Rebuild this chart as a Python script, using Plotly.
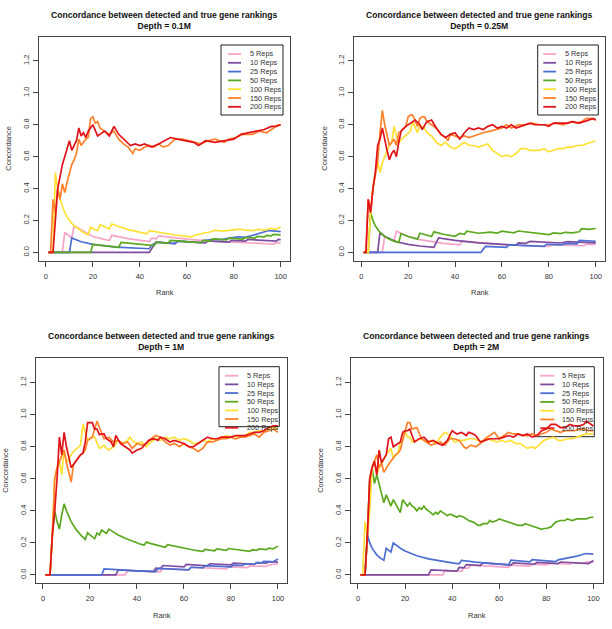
import plotly.graph_objects as go

# ---------------- data: (rank, concordance) vertices ----------------
REPS = ["5 Reps", "10 Reps", "25 Reps", "50 Reps", "100 Reps", "150 Reps", "200 Reps"]
COLORS = ["#F6A5C8", "#7D4E9F", "#4C6ED2", "#5CA91F", "#FFE135", "#FF8129", "#E0121A"]
PANEL_TITLES = ["Depth = 0.1M", "Depth = 0.25M", "Depth = 1M", "Depth = 2M"]
X_TICKS = [0, 20, 40, 60, 80, 100]
Y_TICKS = [0.0, 0.2, 0.4, 0.6, 0.8, 1.0, 1.2]
Y_TICKTEXT = ["0.0", "0.2", "0.4", "0.6", "0.8", "1.0", "1.2"]

# ---- Depth = 0.1M ----
p1_r5 = [(1,0),(7,0),(8,0.125),(11,0.091),(12,0.167),(20,0.1),(27,0.074),(28,0.107),(35,0.086),(44,0.068),(45,0.089),(47,0.085),(48,0.104),(60,0.083),(70,0.071),(80,0.0625),(90,0.056),(97,0.052),(98,0.061),(100,0.06)]
p1_r10 = [(1,0),(44,0),(45,0.022),(46,0.043),(47,0.064),(55,0.055),(56,0.071),(65,0.062),(68,0.059),(69,0.072),(78,0.064),(79,0.076),(85,0.071),(86,0.081),(95,0.074),(98,0.071),(99,0.081),(100,0.08)]
p1_r25 = [(1,0),(10,0),(11,0.091),(15,0.067),(20,0.05),(30,0.033),(44,0.023),(45,0.044),(47,0.064),(53,0.057),(55,0.055),(56,0.071),(60,0.067),(66,0.061),(67,0.075),(72,0.083),(75,0.08),(78,0.09),(82,0.098),(85,0.094),(87,0.103),(89,0.112),(91,0.121),(93,0.129),(95,0.137),(98,0.133),(100,0.13)]
p1_r50 = [(1,0),(19,0),(20,0.05),(31,0.032),(32,0.0625),(46,0.043),(47,0.064),(52,0.058),(53,0.075),(60,0.067),(66,0.061),(67,0.075),(70,0.071),(71,0.085),(77,0.078),(78,0.09),(84,0.083),(85,0.094),(89,0.09),(90,0.1),(93,0.097),(94,0.106),(96,0.104),(97,0.113),(100,0.11)]
p1_r100 = [(1,0),(3,0),(4,0.5),(5,0.4),(6,0.333),(7,0.286),(8,0.25),(9,0.222),(10,0.2),(11,0.182),(12,0.167),(14,0.143),(16,0.125),(18,0.111),(19,0.158),(20,0.15),(21,0.143),(22,0.136),(23,0.174),(24,0.167),(25,0.16),(27,0.148),(28,0.179),(30,0.167),(35,0.143),(40,0.125),(43,0.116),(44,0.136),(48,0.125),(55,0.109),(62,0.097),(64,0.11),(67,0.12),(70,0.128),(72,0.139),(75,0.133),(79,0.14),(82,0.146),(85,0.14),(88,0.136),(90,0.144),(93,0.14),(96,0.15),(98,0.143),(100,0.16)]
p1_r150 = [(1,0),(2,0),(3,0.333),(4,0.25),(5,0.4),(6,0.333),(7,0.43),(8,0.375),(9,0.44),(10,0.5),(11,0.55),(12,0.58),(13,0.62),(14,0.71),(15,0.67),(16,0.69),(17,0.71),(18,0.72),(19,0.84),(20,0.85),(21,0.81),(22,0.82),(23,0.78),(25,0.76),(27,0.74),(29,0.76),(31,0.71),(33,0.68),(35,0.66),(37,0.62),(38,0.65),(40,0.64),(42,0.66),(44,0.67),(46,0.66),(48,0.68),(50,0.66),(52,0.67),(55,0.71),(58,0.71),(61,0.7),(63,0.69),(66,0.68),(69,0.7),(72,0.71),(76,0.69),(78,0.71),(81,0.72),(84,0.74),(88,0.74),(91,0.76),(94,0.75),(97,0.78),(99,0.8),(100,0.8)]
p1_r200 = [(1,0),(3,0),(5,0.4),(7,0.55),(8,0.6),(10,0.7),(11,0.64),(12,0.67),(13,0.7),(14,0.78),(15,0.73),(16,0.75),(17,0.72),(18,0.76),(20,0.8),(22,0.73),(25,0.76),(27,0.73),(29,0.79),(31,0.74),(34,0.7),(36,0.67),(38,0.68),(40,0.67),(42,0.68),(45,0.66),(48,0.68),(53,0.72),(56,0.71),(60,0.7),(63,0.69),(65,0.67),(68,0.7),(72,0.69),(76,0.7),(80,0.71),(83,0.74),(86,0.75),(90,0.76),(93,0.77),(96,0.79),(98,0.79),(100,0.8)]

# ---- Depth = 0.25M ----
p2_r5 = [(1,0),(9,0),(10,0.1),(12,0.083),(14,0.071),(15,0.133),(20,0.1),(25,0.08),(30,0.067),(35,0.057),(40,0.05),(42,0.048),(43,0.07),(50,0.06),(60,0.05),(66,0.045),(70,0.043),(80,0.0375),(82,0.049),(90,0.044),(95,0.042),(96,0.052),(100,0.05)]
p2_r10 = [(1,0),(7,0),(8,0.125),(10,0.1),(15,0.067),(20,0.05),(25,0.04),(30,0.033),(31,0.032),(33,0.091),(40,0.075),(50,0.06),(60,0.05),(66,0.045),(67,0.06),(70,0.057),(72,0.069),(80,0.0625),(85,0.059),(88,0.068),(93,0.064),(95,0.063),(100,0.06)]
p2_r25 = [(1,0),(51,0),(52,0.019),(53,0.038),(62,0.032),(63,0.048),(70,0.043),(78,0.038),(79,0.051),(85,0.047),(88,0.057),(92,0.054),(93,0.075),(100,0.07)]
p2_r50 = [(1,0),(3,0),(4,0.25),(5,0.2),(6,0.167),(7,0.143),(8,0.125),(9,0.111),(10,0.1),(12,0.083),(14,0.071),(16,0.0625),(17,0.118),(20,0.1),(24,0.083),(25,0.12),(30,0.1),(31,0.129),(35,0.114),(38,0.105),(40,0.1),(42,0.119),(44,0.114),(45,0.133),(50,0.12),(55,0.127),(58,0.121),(60,0.133),(65,0.123),(67,0.134),(70,0.129),(75,0.12),(78,0.115),(80,0.112),(82,0.122),(85,0.118),(87,0.126),(90,0.122),(93,0.129),(94,0.149),(97,0.144),(100,0.15)]
p2_r100 = [(1,0),(3,0),(4,0.25),(5,0.4),(6,0.5),(7,0.57),(8,0.5),(9,0.56),(10,0.6),(11,0.64),(12,0.67),(13,0.69),(14,0.79),(15,0.73),(16,0.69),(18,0.72),(20,0.75),(21,0.76),(22,0.82),(23,0.78),(24,0.75),(25,0.8),(27,0.78),(28,0.75),(30,0.73),(32,0.69),(34,0.67),(36,0.69),(38,0.66),(40,0.65),(42,0.67),(44,0.69),(46,0.67),(48,0.67),(50,0.66),(52,0.67),(54,0.68),(56,0.64),(58,0.62),(60,0.6),(62,0.61),(64,0.6),(66,0.62),(68,0.65),(70,0.65),(72,0.64),(74,0.64),(76,0.64),(78,0.65),(80,0.63),(82,0.64),(84,0.65),(86,0.65),(88,0.66),(90,0.66),(92,0.67),(94,0.67),(96,0.68),(98,0.69),(100,0.7)]
p2_r150 = [(1,0),(2,0),(3,0.333),(4,0.25),(5,0.4),(6,0.5),(7,0.57),(8,0.75),(9,0.89),(10,0.8),(11,0.73),(12,0.67),(13,0.69),(14,0.71),(15,0.67),(16,0.75),(17,0.76),(19,0.79),(20,0.85),(21,0.86),(22,0.86),(23,0.83),(24,0.79),(25,0.84),(26,0.85),(27,0.85),(28,0.82),(30,0.8),(32,0.78),(34,0.74),(36,0.72),(37,0.7),(38,0.74),(40,0.73),(42,0.72),(44,0.73),(46,0.72),(48,0.73),(50,0.74),(52,0.75),(55,0.76),(58,0.77),(60,0.78),(62,0.8),(64,0.78),(67,0.8),(70,0.8),(73,0.81),(76,0.8),(78,0.8),(80,0.8),(83,0.81),(86,0.8),(88,0.81),(90,0.82),(92,0.81),(94,0.82),(96,0.84),(98,0.84),(100,0.83)]
p2_r200 = [(1,0),(2,0),(3,0.333),(4,0.25),(5,0.4),(6,0.5),(7,0.67),(8,0.71),(9,0.78),(10,0.7),(11,0.64),(12,0.58),(13,0.62),(14,0.64),(15,0.6),(16,0.69),(17,0.76),(19,0.79),(21,0.81),(23,0.83),(25,0.8),(26,0.77),(28,0.82),(30,0.83),(32,0.78),(34,0.74),(36,0.72),(38,0.74),(40,0.75),(42,0.71),(44,0.75),(46,0.78),(48,0.77),(50,0.78),(52,0.77),(54,0.79),(56,0.8),(58,0.78),(60,0.79),(62,0.78),(64,0.8),(66,0.78),(68,0.79),(70,0.8),(72,0.81),(74,0.8),(76,0.8),(78,0.8),(80,0.79),(82,0.81),(85,0.81),(88,0.81),(90,0.82),(93,0.81),(95,0.82),(97,0.83),(99,0.84),(100,0.83)]

# ---- Depth = 1M ----
p3_r5 = [(1,0),(35,0),(36,0.028),(50,0.02),(51,0.039),(60,0.033),(62,0.032),(63,0.048),(75,0.04),(78,0.038),(79,0.05),(85,0.047),(87,0.046),(88,0.057),(95,0.053),(96,0.0625),(100,0.07)]
p3_r10 = [(1,0),(31,0),(32,0.031),(47,0.021),(48,0.042),(50,0.04),(51,0.059),(60,0.05),(61,0.066),(70,0.057),(71,0.07),(80,0.0625),(81,0.074),(90,0.067),(91,0.077),(95,0.074),(96,0.083),(100,0.08)]
p3_r25 = [(1,0),(25,0),(26,0.038),(30,0.033),(40,0.025),(48,0.021),(49,0.041),(60,0.033),(62,0.032),(63,0.048),(68,0.044),(69,0.058),(80,0.05),(81,0.062),(85,0.059),(86,0.07),(90,0.067),(91,0.077),(93,0.075),(94,0.085),(98,0.082),(99,0.091),(100,0.1)]
p3_r50 = [(1,0),(3,0),(4,0.25),(5,0.4),(6,0.333),(7,0.286),(8,0.375),(9,0.444),(10,0.4),(11,0.364),(12,0.333),(14,0.286),(16,0.25),(18,0.222),(19,0.263),(20,0.25),(21,0.238),(22,0.227),(23,0.261),(24,0.25),(25,0.28),(26,0.269),(27,0.259),(28,0.286),(30,0.267),(32,0.25),(35,0.229),(38,0.21),(41,0.195),(43,0.186),(44,0.205),(46,0.196),(48,0.188),(50,0.18),(52,0.173),(53,0.189),(56,0.179),(60,0.167),(64,0.156),(67,0.149),(68,0.147),(69,0.159),(71,0.155),(73,0.151),(74,0.162),(76,0.158),(78,0.154),(79,0.165),(82,0.159),(86,0.151),(88,0.148),(89,0.157),(91,0.154),(92,0.163),(95,0.158),(96,0.167),(98,0.163),(100,0.18)]
p3_r100 = [(1,0),(3,0),(4,0.25),(5,0.6),(6,0.67),(7,0.71),(8,0.625),(9,0.78),(10,0.7),(11,0.73),(12,0.75),(13,0.77),(15,0.8),(16,0.81),(17,0.94),(18,0.89),(19,0.84),(20,0.85),(21,0.86),(22,0.86),(23,0.83),(24,0.79),(25,0.8),(26,0.81),(27,0.79),(28,0.78),(30,0.8),(32,0.84),(34,0.82),(36,0.84),(37,0.86),(38,0.84),(40,0.82),(42,0.83),(44,0.8),(46,0.83),(48,0.85),(50,0.84),(52,0.86),(54,0.85),(56,0.86),(58,0.84),(60,0.85),(62,0.84),(64,0.82),(66,0.82),(68,0.84),(70,0.83),(72,0.85),(74,0.84),(76,0.86),(78,0.87),(80,0.86),(82,0.87),(84,0.86),(86,0.87),(88,0.89),(90,0.89),(92,0.9),(94,0.9),(96,0.91),(98,0.92),(100,0.91)]
p3_r150 = [(1,0),(3,0),(4,0.25),(5,0.6),(6,0.67),(7,0.71),(8,0.75),(9,0.78),(10,0.7),(11,0.64),(12,0.58),(13,0.69),(14,0.71),(15,0.73),(16,0.75),(17,0.76),(18,0.78),(19,0.84),(20,0.85),(21,0.86),(22,0.91),(23,0.96),(24,0.92),(25,0.88),(26,0.85),(28,0.86),(30,0.83),(32,0.84),(34,0.82),(36,0.83),(38,0.79),(40,0.82),(42,0.81),(44,0.82),(46,0.85),(48,0.87),(50,0.86),(52,0.83),(54,0.81),(56,0.82),(58,0.8),(60,0.82),(62,0.8),(64,0.79),(66,0.77),(68,0.79),(70,0.83),(72,0.83),(74,0.84),(76,0.85),(78,0.85),(80,0.86),(82,0.85),(84,0.86),(86,0.86),(88,0.87),(90,0.88),(92,0.86),(94,0.89),(96,0.9),(98,0.91),(100,0.89)]
p3_r200 = [(1,0),(3,0),(4,0.25),(5,0.4),(6,0.6),(7,0.86),(8,0.75),(9,0.89),(10,0.8),(11,0.73),(12,0.67),(13,0.69),(14,0.71),(15,0.73),(16,0.75),(17,0.76),(18,0.83),(19,0.95),(20,0.95),(21,0.95),(22,0.91),(23,0.91),(24,0.875),(25,0.88),(26,0.88),(27,0.85),(29,0.83),(30,0.8),(31,0.87),(33,0.82),(35,0.8),(37,0.78),(38,0.76),(40,0.78),(42,0.79),(44,0.82),(45,0.84),(47,0.85),(49,0.84),(50,0.86),(52,0.85),(54,0.83),(56,0.84),(58,0.83),(60,0.82),(62,0.8),(64,0.8),(66,0.82),(68,0.84),(70,0.86),(72,0.85),(74,0.85),(76,0.86),(78,0.86),(80,0.86),(82,0.87),(84,0.87),(86,0.87),(88,0.88),(90,0.89),(92,0.89),(94,0.9),(96,0.92),(98,0.93),(100,0.93)]

# ---- Depth = 2M ----
p4_r5 = [(1,0),(36,0),(37,0.027),(40,0.025),(44,0.023),(45,0.044),(47,0.043),(48,0.0625),(55,0.055),(60,0.05),(64,0.047),(65,0.062),(73,0.055),(74,0.068),(80,0.0625),(82,0.073),(90,0.067),(91,0.077),(96,0.073),(97,0.082),(100,0.08)]
p4_r10 = [(1,0),(30,0),(31,0.032),(38,0.026),(42,0.024),(43,0.047),(45,0.044),(46,0.065),(50,0.06),(52,0.058),(53,0.075),(60,0.067),(65,0.062),(66,0.076),(75,0.067),(76,0.079),(85,0.071),(86,0.081),(95,0.074),(98,0.071),(99,0.081),(100,0.09)]
p4_r25 = [(1,0),(3,0),(4,0.25),(5,0.2),(6,0.167),(7,0.143),(8,0.125),(9,0.111),(10,0.1),(11,0.091),(12,0.167),(13,0.154),(14,0.143),(15,0.2),(16,0.1875),(18,0.167),(20,0.15),(25,0.12),(30,0.1),(35,0.086),(40,0.075),(43,0.07),(44,0.091),(50,0.08),(55,0.073),(60,0.067),(64,0.0625),(65,0.092),(70,0.086),(73,0.082),(74,0.095),(80,0.0875),(84,0.083),(85,0.094),(88,0.102),(90,0.111),(93,0.118),(95,0.126),(97,0.134),(100,0.13)]
p4_r50 = [(1,0),(3,0),(4,0.25),(5,0.6),(6,0.67),(7,0.57),(8,0.625),(9,0.56),(10,0.5),(11,0.45),(12,0.5),(13,0.46),(14,0.43),(15,0.47),(16,0.44),(17,0.41),(18,0.39),(19,0.47),(20,0.45),(21,0.43),(22,0.45),(23,0.43),(24,0.42),(25,0.4),(26,0.42),(27,0.41),(28,0.43),(29,0.41),(30,0.4),(31,0.39),(32,0.375),(33,0.39),(34,0.38),(35,0.4),(37,0.38),(38,0.37),(39,0.38),(40,0.375),(42,0.36),(43,0.37),(45,0.36),(47,0.34),(49,0.33),(51,0.31),(52,0.31),(53,0.32),(55,0.32),(56,0.34),(57,0.33),(59,0.34),(60,0.35),(62,0.34),(64,0.33),(66,0.32),(68,0.31),(70,0.31),(71,0.32),(73,0.31),(75,0.3),(77,0.29),(78,0.285),(79,0.29),(80,0.29),(82,0.3),(84,0.33),(86,0.34),(88,0.34),(89,0.35),(91,0.34),(93,0.35),(95,0.35),(97,0.35),(99,0.36),(100,0.36)]
p4_r100 = [(1,0),(2,0),(3,0.333),(4,0.25),(5,0.4),(6,0.67),(7,0.71),(8,0.625),(9,0.67),(10,0.7),(11,0.73),(12,0.75),(13,0.77),(14,0.79),(15,0.73),(16,0.75),(17,0.76),(18,0.83),(19,0.84),(20,0.9),(21,0.86),(22,0.86),(23,0.83),(25,0.84),(27,0.85),(29,0.83),(31,0.84),(33,0.82),(35,0.86),(37,0.89),(39,0.87),(41,0.83),(43,0.84),(45,0.84),(47,0.85),(49,0.85),(51,0.84),(53,0.83),(55,0.85),(57,0.84),(59,0.83),(61,0.84),(63,0.83),(65,0.84),(67,0.82),(69,0.82),(71,0.8),(72,0.79),(74,0.8),(75,0.79),(77,0.81),(79,0.84),(81,0.85),(83,0.86),(85,0.84),(87,0.84),(89,0.85),(91,0.85),(93,0.86),(95,0.87),(97,0.88),(100,0.88)]
p4_r150 = [(1,0),(3,0),(4,0.25),(5,0.6),(6,0.67),(7,0.71),(8,0.75),(9,0.67),(10,0.7),(11,0.64),(12,0.67),(13,0.69),(14,0.71),(15,0.73),(16,0.75),(17,0.76),(18,0.78),(19,0.84),(20,0.9),(21,0.95),(22,0.95),(23,0.91),(25,0.92),(26,0.88),(27,0.85),(29,0.83),(31,0.81),(33,0.82),(35,0.83),(37,0.81),(39,0.85),(41,0.85),(43,0.84),(45,0.8),(46,0.79),(48,0.81),(50,0.8),(52,0.82),(54,0.85),(56,0.87),(58,0.89),(60,0.85),(62,0.87),(64,0.89),(66,0.88),(68,0.88),(70,0.87),(72,0.87),(74,0.88),(76,0.87),(78,0.88),(80,0.89),(82,0.91),(84,0.9),(86,0.89),(88,0.9),(90,0.9),(92,0.9),(94,0.91),(96,0.91),(98,0.9),(100,0.9)]
p4_r200 = [(1,0),(3,0),(4,0.25),(5,0.6),(6,0.67),(7,0.71),(8,0.625),(9,0.78),(10,0.7),(11,0.73),(12,0.75),(13,0.85),(14,0.86),(15,0.8),(16,0.81),(17,0.82),(18,0.83),(19,0.89),(20,0.9),(21,0.9),(22,0.91),(23,0.87),(24,0.83),(25,0.84),(26,0.85),(28,0.86),(30,0.83),(32,0.84),(34,0.82),(36,0.81),(38,0.84),(40,0.9),(42,0.88),(44,0.89),(46,0.87),(47,0.89),(49,0.88),(50,0.87),(52,0.83),(54,0.84),(56,0.85),(58,0.85),(60,0.85),(62,0.86),(64,0.87),(66,0.86),(68,0.88),(70,0.87),(72,0.88),(74,0.86),(76,0.87),(78,0.9),(80,0.91),(82,0.94),(84,0.94),(86,0.92),(88,0.92),(90,0.94),(92,0.93),(94,0.93),(96,0.94),(97,0.96),(98,0.95),(100,0.93)]

PANELS = [
    [p1_r5, p1_r10, p1_r25, p1_r50, p1_r100, p1_r150, p1_r200],
    [p2_r5, p2_r10, p2_r25, p2_r50, p2_r100, p2_r150, p2_r200],
    [p3_r5, p3_r10, p3_r25, p3_r50, p3_r100, p3_r150, p3_r200],
    [p4_r5, p4_r10, p4_r25, p4_r50, p4_r100, p4_r150, p4_r200],
]

# ---------------- layout geometry (pixels in a 612 x 629 page) ----------------
W, H = 612, 629
# plot boxes: (left, right, top, bottom)
BOXES = [(39, 290, 36.7, 260.7), (354.3, 605, 36.7, 260.7),
         (36, 287.3, 358.3, 583.3), (351, 602.7, 358.3, 583.3)]
# legend boxes: (left, right, top, bottom, first row y, row step, line x0, line x1, text x)
LEGENDS = [(221, 283, 45, 115, 54, 8.8, 228, 241, 248),
           (537.7, 598.3, 45, 115, 54, 8.8, 543.3, 556, 563.3),
           (219, 279.3, 366.7, 426.7, 375.7, 8.67, 225, 238.3, 245),
           (534.3, 594.3, 366.7, 436.7, 375.7, 8.75, 540.3, 554.3, 560)]
YLABEL_X = [9, 325, 6, 321]

FONT = "Liberation Sans, Arial, Helvetica, sans-serif"
AXC = "#444444"
TXC = "#333333"

def px(x):
    return x / W

def py(y):
    return 1 - y / H

fig = go.Figure()
layout = dict(width=W, height=H, margin=dict(l=0, r=0, t=0, b=0),
              paper_bgcolor="white", plot_bgcolor="rgba(0,0,0,0)",
              showlegend=False, font=dict(family=FONT, color=TXC))
shapes, annotations = [], []

for i, (series_list, box) in enumerate(zip(PANELS, BOXES)):
    n = "" if i == 0 else str(i + 1)
    l, r, t, b = box
    for name, col, pts in zip(REPS, COLORS, series_list):
        fig.add_trace(go.Scatter(
            x=[p[0] for p in pts], y=[p[1] for p in pts], mode="lines", name=name,
            line=dict(color=col, width=1.7), xaxis="x" + n, yaxis="y" + n))
    layout["xaxis" + n] = dict(
        domain=[px(l), px(r)], range=[-2.96, 103.96], anchor="y" + n,
        tickvals=X_TICKS, ticks="outside", ticklen=5, tickcolor=AXC, tickwidth=1,
        ticklabelstandoff=3,
        showline=True, mirror=True, linecolor=AXC, linewidth=1,
        showgrid=False, zeroline=False, tickfont=dict(size=7.5, color=TXC))
    layout["yaxis" + n] = dict(
        domain=[py(b), py(t)], range=[-0.052, 1.352], anchor="x" + n,
        tickvals=Y_TICKS, ticktext=Y_TICKTEXT, tickangle=-90,
        ticklabelstandoff=1,
        ticks="outside", ticklen=5, tickcolor=AXC, tickwidth=1,
        showline=True, mirror=True, linecolor=AXC, linewidth=1,
        showgrid=False, zeroline=False, tickfont=dict(size=7.5, color=TXC))

    cx = (l + r) / 2
    annotations.append(dict(
        x=px(cx), y=py(t - 16.5), xref="paper", yref="paper", showarrow=False,
        text="<b>Concordance between detected and true gene rankings</b><br><b>" + PANEL_TITLES[i] + "</b>",
        font=dict(size=8.6, color="#111111", family=FONT), xanchor="center", yanchor="middle"))
    annotations.append(dict(
        x=px(cx), y=py(b + 32), xref="paper", yref="paper", showarrow=False,
        text="Rank", font=dict(size=7.5, color=TXC), xanchor="center", yanchor="middle"))
    annotations.append(dict(
        x=px(YLABEL_X[i]), y=py((t + b) / 2), xref="paper", yref="paper", showarrow=False,
        text="Concordance", textangle=-90, font=dict(size=7.5, color=TXC),
        xanchor="center", yanchor="middle"))

    # legend box, keys and labels
    L0, L1, LT, LB, R0, RS, K0, K1, TX = LEGENDS[i]
    shapes.append(dict(type="rect", xref="paper", yref="paper",
                       x0=px(L0), x1=px(L1), y0=py(LB), y1=py(LT),
                       line=dict(color="#222222", width=1), fillcolor="white", layer="below"))
    for k, (name, col) in enumerate(zip(REPS, COLORS)):
        yy = R0 + k * RS
        shapes.append(dict(type="line", xref="paper", yref="paper",
                           x0=px(K0), x1=px(K1), y0=py(yy), y1=py(yy),
                           line=dict(color=col, width=1.8), layer="below"))
        annotations.append(dict(
            x=px(TX), y=py(yy), xref="paper", yref="paper", showarrow=False,
            text=name, font=dict(size=7.3, color=TXC), xanchor="left", yanchor="middle"))

layout["shapes"] = shapes
layout["annotations"] = annotations
fig.update_layout(**layout)
fig.write_html("out.html")
